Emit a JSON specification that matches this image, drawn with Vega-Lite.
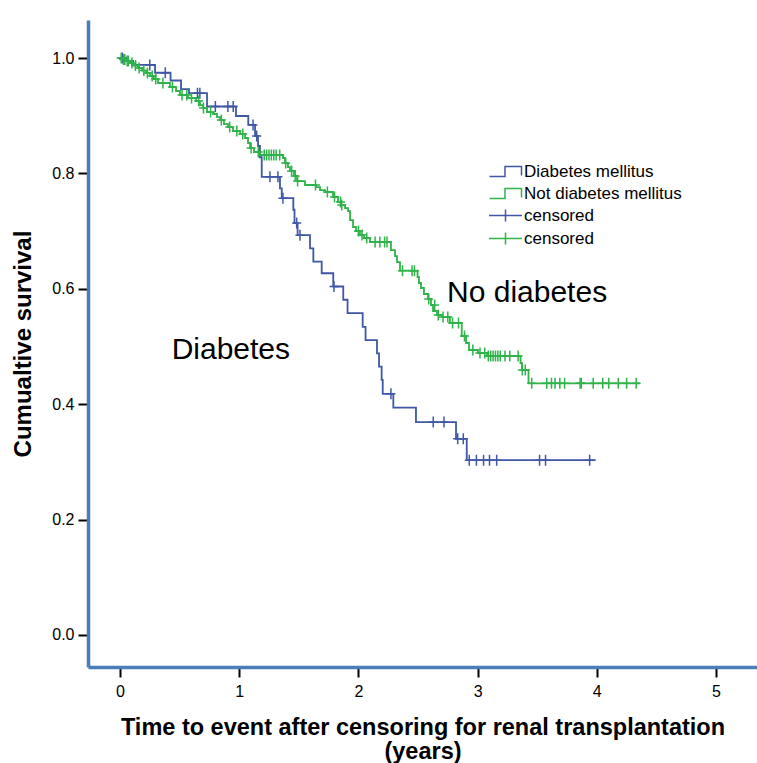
{
  "$schema": "https://vega.github.io/schema/vega-lite/v6.json",
  "width": 669,
  "height": 647,
  "autosize": "none",
  "padding": {"left": 88, "top": 20, "right": 0, "bottom": 96},
  "background": "white",
  "config": {
    "view": {"stroke": null},
    "font": "Liberation Sans",
    "axis": {
      "grid": false,
      "domainColor": "#4a7ebb",
      "domainWidth": 3.5,
      "tickColor": "black",
      "tickWidth": 2,
      "labelFont": "Liberation Sans",
      "labelFontSize": 16,
      "labelColor": "black",
      "titleFont": "Liberation Sans",
      "titleFontSize": 24,
      "titleFontWeight": "bold",
      "titleColor": "black"
    },
    "legend": {
      "labelFont": "Liberation Sans",
      "labelFontSize": 17,
      "labelColor": "black",
      "rowPadding": 4,
      "symbolStrokeWidth": 1.5,
      "symbolFillColor": "transparent"
    }
  },
  "datasets": {
    "curves": [
      {"series": "Diabetes mellitus", "t": 0, "s": 1.0},
      {"series": "Diabetes mellitus", "t": 0.05, "s": 0.995},
      {"series": "Diabetes mellitus", "t": 0.109, "s": 0.988},
      {"series": "Diabetes mellitus", "t": 0.294, "s": 0.9745},
      {"series": "Diabetes mellitus", "t": 0.424, "s": 0.961},
      {"series": "Diabetes mellitus", "t": 0.512, "s": 0.946},
      {"series": "Diabetes mellitus", "t": 0.579, "s": 0.939},
      {"series": "Diabetes mellitus", "t": 0.73, "s": 0.916},
      {"series": "Diabetes mellitus", "t": 0.973, "s": 0.8995},
      {"series": "Diabetes mellitus", "t": 1.076, "s": 0.884},
      {"series": "Diabetes mellitus", "t": 1.133, "s": 0.865},
      {"series": "Diabetes mellitus", "t": 1.158, "s": 0.8475},
      {"series": "Diabetes mellitus", "t": 1.174, "s": 0.828},
      {"series": "Diabetes mellitus", "t": 1.189, "s": 0.794},
      {"series": "Diabetes mellitus", "t": 1.342, "s": 0.774},
      {"series": "Diabetes mellitus", "t": 1.357, "s": 0.757},
      {"series": "Diabetes mellitus", "t": 1.454, "s": 0.737},
      {"series": "Diabetes mellitus", "t": 1.464, "s": 0.714},
      {"series": "Diabetes mellitus", "t": 1.49, "s": 0.693},
      {"series": "Diabetes mellitus", "t": 1.594, "s": 0.67},
      {"series": "Diabetes mellitus", "t": 1.622, "s": 0.647},
      {"series": "Diabetes mellitus", "t": 1.692, "s": 0.627},
      {"series": "Diabetes mellitus", "t": 1.789, "s": 0.604},
      {"series": "Diabetes mellitus", "t": 1.873, "s": 0.581},
      {"series": "Diabetes mellitus", "t": 1.909, "s": 0.558},
      {"series": "Diabetes mellitus", "t": 2.036, "s": 0.534},
      {"series": "Diabetes mellitus", "t": 2.06, "s": 0.511},
      {"series": "Diabetes mellitus", "t": 2.156, "s": 0.488},
      {"series": "Diabetes mellitus", "t": 2.173, "s": 0.465},
      {"series": "Diabetes mellitus", "t": 2.195, "s": 0.442},
      {"series": "Diabetes mellitus", "t": 2.204, "s": 0.418},
      {"series": "Diabetes mellitus", "t": 2.293, "s": 0.394},
      {"series": "Diabetes mellitus", "t": 2.483, "s": 0.369},
      {"series": "Diabetes mellitus", "t": 2.819, "s": 0.34},
      {"series": "Diabetes mellitus", "t": 2.909, "s": 0.303},
      {"series": "Diabetes mellitus", "t": 3.99, "s": 0.303},
      {"series": "Not diabetes mellitus", "t": 0, "s": 1.0},
      {"series": "Not diabetes mellitus", "t": 0.025, "s": 0.9974},
      {"series": "Not diabetes mellitus", "t": 0.05, "s": 0.9948},
      {"series": "Not diabetes mellitus", "t": 0.084, "s": 0.9913},
      {"series": "Not diabetes mellitus", "t": 0.117, "s": 0.987},
      {"series": "Not diabetes mellitus", "t": 0.151, "s": 0.9827},
      {"series": "Not diabetes mellitus", "t": 0.185, "s": 0.9783},
      {"series": "Not diabetes mellitus", "t": 0.218, "s": 0.974},
      {"series": "Not diabetes mellitus", "t": 0.252, "s": 0.9688},
      {"series": "Not diabetes mellitus", "t": 0.285, "s": 0.9636},
      {"series": "Not diabetes mellitus", "t": 0.319, "s": 0.9567},
      {"series": "Not diabetes mellitus", "t": 0.419, "s": 0.9497},
      {"series": "Not diabetes mellitus", "t": 0.47, "s": 0.9428},
      {"series": "Not diabetes mellitus", "t": 0.503, "s": 0.9359},
      {"series": "Not diabetes mellitus", "t": 0.57, "s": 0.9307},
      {"series": "Not diabetes mellitus", "t": 0.638, "s": 0.9255},
      {"series": "Not diabetes mellitus", "t": 0.671, "s": 0.9185},
      {"series": "Not diabetes mellitus", "t": 0.696, "s": 0.9133},
      {"series": "Not diabetes mellitus", "t": 0.73, "s": 0.9064},
      {"series": "Not diabetes mellitus", "t": 0.78, "s": 0.903},
      {"series": "Not diabetes mellitus", "t": 0.814, "s": 0.8977},
      {"series": "Not diabetes mellitus", "t": 0.839, "s": 0.8925},
      {"series": "Not diabetes mellitus", "t": 0.872, "s": 0.8856},
      {"series": "Not diabetes mellitus", "t": 0.906, "s": 0.8804},
      {"series": "Not diabetes mellitus", "t": 0.948, "s": 0.8735},
      {"series": "Not diabetes mellitus", "t": 1.007, "s": 0.8683},
      {"series": "Not diabetes mellitus", "t": 1.049, "s": 0.8614},
      {"series": "Not diabetes mellitus", "t": 1.074, "s": 0.8527},
      {"series": "Not diabetes mellitus", "t": 1.091, "s": 0.844},
      {"series": "Not diabetes mellitus", "t": 1.124, "s": 0.8371},
      {"series": "Not diabetes mellitus", "t": 1.174, "s": 0.8319},
      {"series": "Not diabetes mellitus", "t": 1.367, "s": 0.8267},
      {"series": "Not diabetes mellitus", "t": 1.384, "s": 0.818},
      {"series": "Not diabetes mellitus", "t": 1.409, "s": 0.811},
      {"series": "Not diabetes mellitus", "t": 1.426, "s": 0.8042},
      {"series": "Not diabetes mellitus", "t": 1.46, "s": 0.7955},
      {"series": "Not diabetes mellitus", "t": 1.485, "s": 0.7868},
      {"series": "Not diabetes mellitus", "t": 1.552, "s": 0.7799},
      {"series": "Not diabetes mellitus", "t": 1.644, "s": 0.7764},
      {"series": "Not diabetes mellitus", "t": 1.678, "s": 0.7712},
      {"series": "Not diabetes mellitus", "t": 1.72, "s": 0.7678},
      {"series": "Not diabetes mellitus", "t": 1.787, "s": 0.7591},
      {"series": "Not diabetes mellitus", "t": 1.829, "s": 0.7504},
      {"series": "Not diabetes mellitus", "t": 1.854, "s": 0.7452},
      {"series": "Not diabetes mellitus", "t": 1.888, "s": 0.74},
      {"series": "Not diabetes mellitus", "t": 1.913, "s": 0.7348},
      {"series": "Not diabetes mellitus", "t": 1.93, "s": 0.7192},
      {"series": "Not diabetes mellitus", "t": 1.955, "s": 0.7071},
      {"series": "Not diabetes mellitus", "t": 1.98, "s": 0.7002},
      {"series": "Not diabetes mellitus", "t": 2.013, "s": 0.6932},
      {"series": "Not diabetes mellitus", "t": 2.047, "s": 0.688},
      {"series": "Not diabetes mellitus", "t": 2.097, "s": 0.6811},
      {"series": "Not diabetes mellitus", "t": 2.273, "s": 0.6672},
      {"series": "Not diabetes mellitus", "t": 2.307, "s": 0.6568},
      {"series": "Not diabetes mellitus", "t": 2.324, "s": 0.6464},
      {"series": "Not diabetes mellitus", "t": 2.349, "s": 0.6314},
      {"series": "Not diabetes mellitus", "t": 2.496, "s": 0.6205},
      {"series": "Not diabetes mellitus", "t": 2.508, "s": 0.6101},
      {"series": "Not diabetes mellitus", "t": 2.525, "s": 0.6014},
      {"series": "Not diabetes mellitus", "t": 2.55, "s": 0.591},
      {"series": "Not diabetes mellitus", "t": 2.584, "s": 0.5823},
      {"series": "Not diabetes mellitus", "t": 2.609, "s": 0.5719},
      {"series": "Not diabetes mellitus", "t": 2.626, "s": 0.5615},
      {"series": "Not diabetes mellitus", "t": 2.659, "s": 0.5546},
      {"series": "Not diabetes mellitus", "t": 2.701, "s": 0.5511},
      {"series": "Not diabetes mellitus", "t": 2.768, "s": 0.5407},
      {"series": "Not diabetes mellitus", "t": 2.867, "s": 0.5182},
      {"series": "Not diabetes mellitus", "t": 2.903, "s": 0.5061},
      {"series": "Not diabetes mellitus", "t": 2.928, "s": 0.4939},
      {"series": "Not diabetes mellitus", "t": 3.003, "s": 0.4887},
      {"series": "Not diabetes mellitus", "t": 3.079, "s": 0.4835},
      {"series": "Not diabetes mellitus", "t": 3.36, "s": 0.4714},
      {"series": "Not diabetes mellitus", "t": 3.372, "s": 0.4593},
      {"series": "Not diabetes mellitus", "t": 3.427, "s": 0.4362},
      {"series": "Not diabetes mellitus", "t": 4.362, "s": 0.4362}
    ],
    "censor": [
      {"series": "censored (DM)", "t": 0.02, "s": 1.0},
      {"series": "censored (DM)", "t": 0.25, "s": 0.988},
      {"series": "censored (DM)", "t": 0.38, "s": 0.9745},
      {"series": "censored (DM)", "t": 0.65, "s": 0.939},
      {"series": "censored (DM)", "t": 0.67, "s": 0.939},
      {"series": "censored (DM)", "t": 0.8, "s": 0.916},
      {"series": "censored (DM)", "t": 0.905, "s": 0.916},
      {"series": "censored (DM)", "t": 0.95, "s": 0.916},
      {"series": "censored (DM)", "t": 1.116, "s": 0.884},
      {"series": "censored (DM)", "t": 1.147, "s": 0.865},
      {"series": "censored (DM)", "t": 1.258, "s": 0.794},
      {"series": "censored (DM)", "t": 1.325, "s": 0.794},
      {"series": "censored (DM)", "t": 1.367, "s": 0.757},
      {"series": "censored (DM)", "t": 1.482, "s": 0.714},
      {"series": "censored (DM)", "t": 1.51, "s": 0.693},
      {"series": "censored (DM)", "t": 1.795, "s": 0.604},
      {"series": "censored (DM)", "t": 2.273, "s": 0.418},
      {"series": "censored (DM)", "t": 2.628, "s": 0.369},
      {"series": "censored (DM)", "t": 2.718, "s": 0.369},
      {"series": "censored (DM)", "t": 2.833, "s": 0.34},
      {"series": "censored (DM)", "t": 2.88, "s": 0.34},
      {"series": "censored (DM)", "t": 2.93, "s": 0.303},
      {"series": "censored (DM)", "t": 2.99, "s": 0.303},
      {"series": "censored (DM)", "t": 3.05, "s": 0.303},
      {"series": "censored (DM)", "t": 3.1, "s": 0.303},
      {"series": "censored (DM)", "t": 3.16, "s": 0.303},
      {"series": "censored (DM)", "t": 3.52, "s": 0.303},
      {"series": "censored (DM)", "t": 3.57, "s": 0.303},
      {"series": "censored (DM)", "t": 3.94, "s": 0.303},
      {"series": "censored (no DM)", "t": 0.01, "s": 1.0},
      {"series": "censored (no DM)", "t": 0.03, "s": 0.9974},
      {"series": "censored (no DM)", "t": 0.04, "s": 0.9974},
      {"series": "censored (no DM)", "t": 0.06, "s": 0.9948},
      {"series": "censored (no DM)", "t": 0.07, "s": 0.9948},
      {"series": "censored (no DM)", "t": 0.1, "s": 0.9913},
      {"series": "censored (no DM)", "t": 0.13, "s": 0.987},
      {"series": "censored (no DM)", "t": 0.16, "s": 0.9827},
      {"series": "censored (no DM)", "t": 0.2, "s": 0.9783},
      {"series": "censored (no DM)", "t": 0.23, "s": 0.974},
      {"series": "censored (no DM)", "t": 0.27, "s": 0.9688},
      {"series": "censored (no DM)", "t": 0.3, "s": 0.9636},
      {"series": "censored (no DM)", "t": 0.36, "s": 0.9567},
      {"series": "censored (no DM)", "t": 0.44, "s": 0.9497},
      {"series": "censored (no DM)", "t": 0.52, "s": 0.9359},
      {"series": "censored (no DM)", "t": 0.56, "s": 0.9359},
      {"series": "censored (no DM)", "t": 0.6, "s": 0.9307},
      {"series": "censored (no DM)", "t": 0.66, "s": 0.9255},
      {"series": "censored (no DM)", "t": 0.7, "s": 0.9133},
      {"series": "censored (no DM)", "t": 0.76, "s": 0.9064},
      {"series": "censored (no DM)", "t": 0.85, "s": 0.8925},
      {"series": "censored (no DM)", "t": 0.92, "s": 0.8804},
      {"series": "censored (no DM)", "t": 0.98, "s": 0.8735},
      {"series": "censored (no DM)", "t": 1.03, "s": 0.8683},
      {"series": "censored (no DM)", "t": 1.1, "s": 0.844},
      {"series": "censored (no DM)", "t": 1.16, "s": 0.8371},
      {"series": "censored (no DM)", "t": 1.21, "s": 0.8319},
      {"series": "censored (no DM)", "t": 1.23, "s": 0.8319},
      {"series": "censored (no DM)", "t": 1.25, "s": 0.8319},
      {"series": "censored (no DM)", "t": 1.27, "s": 0.8319},
      {"series": "censored (no DM)", "t": 1.29, "s": 0.8319},
      {"series": "censored (no DM)", "t": 1.31, "s": 0.8319},
      {"series": "censored (no DM)", "t": 1.34, "s": 0.8319},
      {"series": "censored (no DM)", "t": 1.39, "s": 0.818},
      {"series": "censored (no DM)", "t": 1.44, "s": 0.8042},
      {"series": "censored (no DM)", "t": 1.47, "s": 0.7955},
      {"series": "censored (no DM)", "t": 1.49, "s": 0.7868},
      {"series": "censored (no DM)", "t": 1.64, "s": 0.7799},
      {"series": "censored (no DM)", "t": 1.74, "s": 0.7678},
      {"series": "censored (no DM)", "t": 1.8, "s": 0.7591},
      {"series": "censored (no DM)", "t": 1.85, "s": 0.7504},
      {"series": "censored (no DM)", "t": 1.86, "s": 0.7452},
      {"series": "censored (no DM)", "t": 2.0, "s": 0.7002},
      {"series": "censored (no DM)", "t": 2.03, "s": 0.6932},
      {"series": "censored (no DM)", "t": 2.07, "s": 0.688},
      {"series": "censored (no DM)", "t": 2.14, "s": 0.6811},
      {"series": "censored (no DM)", "t": 2.18, "s": 0.6811},
      {"series": "censored (no DM)", "t": 2.22, "s": 0.6811},
      {"series": "censored (no DM)", "t": 2.24, "s": 0.6811},
      {"series": "censored (no DM)", "t": 2.37, "s": 0.6314},
      {"series": "censored (no DM)", "t": 2.45, "s": 0.6314},
      {"series": "censored (no DM)", "t": 2.47, "s": 0.6314},
      {"series": "censored (no DM)", "t": 2.59, "s": 0.5823},
      {"series": "censored (no DM)", "t": 2.64, "s": 0.5719},
      {"series": "censored (no DM)", "t": 2.67, "s": 0.5546},
      {"series": "censored (no DM)", "t": 2.71, "s": 0.5511},
      {"series": "censored (no DM)", "t": 2.75, "s": 0.5511},
      {"series": "censored (no DM)", "t": 2.79, "s": 0.5407},
      {"series": "censored (no DM)", "t": 2.84, "s": 0.5407},
      {"series": "censored (no DM)", "t": 2.89, "s": 0.5182},
      {"series": "censored (no DM)", "t": 2.96, "s": 0.4939},
      {"series": "censored (no DM)", "t": 3.02, "s": 0.4887},
      {"series": "censored (no DM)", "t": 3.06, "s": 0.4887},
      {"series": "censored (no DM)", "t": 3.09, "s": 0.4835},
      {"series": "censored (no DM)", "t": 3.11, "s": 0.4835},
      {"series": "censored (no DM)", "t": 3.13, "s": 0.4835},
      {"series": "censored (no DM)", "t": 3.15, "s": 0.4835},
      {"series": "censored (no DM)", "t": 3.17, "s": 0.4835},
      {"series": "censored (no DM)", "t": 3.19, "s": 0.4835},
      {"series": "censored (no DM)", "t": 3.23, "s": 0.4835},
      {"series": "censored (no DM)", "t": 3.27, "s": 0.4835},
      {"series": "censored (no DM)", "t": 3.34, "s": 0.4835},
      {"series": "censored (no DM)", "t": 3.375, "s": 0.4593},
      {"series": "censored (no DM)", "t": 3.4, "s": 0.4593},
      {"series": "censored (no DM)", "t": 3.454, "s": 0.4362},
      {"series": "censored (no DM)", "t": 3.58, "s": 0.4362},
      {"series": "censored (no DM)", "t": 3.62, "s": 0.4362},
      {"series": "censored (no DM)", "t": 3.65, "s": 0.4362},
      {"series": "censored (no DM)", "t": 3.69, "s": 0.4362},
      {"series": "censored (no DM)", "t": 3.73, "s": 0.4362},
      {"series": "censored (no DM)", "t": 3.86, "s": 0.4362},
      {"series": "censored (no DM)", "t": 3.87, "s": 0.4362},
      {"series": "censored (no DM)", "t": 3.97, "s": 0.4362},
      {"series": "censored (no DM)", "t": 4.05, "s": 0.4362},
      {"series": "censored (no DM)", "t": 4.1, "s": 0.4362},
      {"series": "censored (no DM)", "t": 4.18, "s": 0.4362},
      {"series": "censored (no DM)", "t": 4.25, "s": 0.4362},
      {"series": "censored (no DM)", "t": 4.33, "s": 0.4362}
    ],
    "labels": [
      {"label": "Diabetes", "t": 0.93, "s": 0.494},
      {"label": "No diabetes", "t": 3.415, "s": 0.593}
    ]
  },
  "encoding": {
    "x": {
      "field": "t",
      "type": "quantitative",
      "scale": {"domain": [-0.2685, 5.344], "nice": false, "zero": false},
      "axis": {
        "values": [0, 1, 2, 3, 4, 5],
        "format": "d",
        "tickSize": 10,
        "labelPadding": 6,
        "title": ["Time to event after censoring for renal transplantation", "(years)"],
        "titleFontSize": 23.5,
        "titlePadding": 16,
        "titleLineHeight": 24
      }
    },
    "y": {
      "field": "s",
      "type": "quantitative",
      "scale": {"domain": [-0.0555, 1.0659], "nice": false, "zero": false},
      "axis": {
        "values": [0, 0.2, 0.4, 0.6, 0.8, 1.0],
        "format": ".1f",
        "tickSize": 10,
        "labelPadding": 4,
        "title": "Cumualtive survival",
        "titlePadding": 16
      }
    }
  },
  "layer": [
    {
      "data": {"name": "curves"},
      "mark": {"type": "line", "interpolate": "step-after", "strokeWidth": 1.8},
      "encoding": {
        "color": {
          "field": "series",
          "type": "nominal",
          "scale": {"domain": ["Diabetes mellitus", "Not diabetes mellitus"], "range": ["#3f57a6", "#2fb34a"]},
          "legend": {
            "orient": "none",
            "legendX": 409,
            "legendY": 143,
            "title": null,
            "symbolType": "M-3.2,1H-0.1V-1H3.2V0.8",
            "symbolSize": 100,
            "labelOffset": 10
          }
        }
      }
    },
    {
      "data": {"name": "censor"},
      "mark": {"type": "point", "filled": false, "strokeWidth": 1.5, "size": 100, "opacity": 1, "shape": "M-0.9,0H0.9M0,-1.1V1.1"},
      "encoding": {
        "color": {
          "field": "series",
          "type": "nominal",
          "scale": {"domain": ["censored (DM)", "censored (no DM)"], "range": ["#3f57a6", "#2fb34a"]},
          "legend": {
            "orient": "none",
            "legendX": 409,
            "legendY": 187,
            "title": null,
            "labelExpr": "'censored'",
            "symbolType": "M-3.3,0H3.3M0,-1.2V1.2",
            "symbolSize": 100,
            "labelOffset": 10
          }
        }
      }
    },
    {
      "data": {"name": "labels"},
      "mark": {"type": "text", "fontSize": 30, "font": "Liberation Sans", "color": "black", "align": "center", "baseline": "middle"},
      "encoding": {"text": {"field": "label", "type": "nominal"}}
    }
  ],
  "resolve": {"scale": {"color": "independent"}}
}
